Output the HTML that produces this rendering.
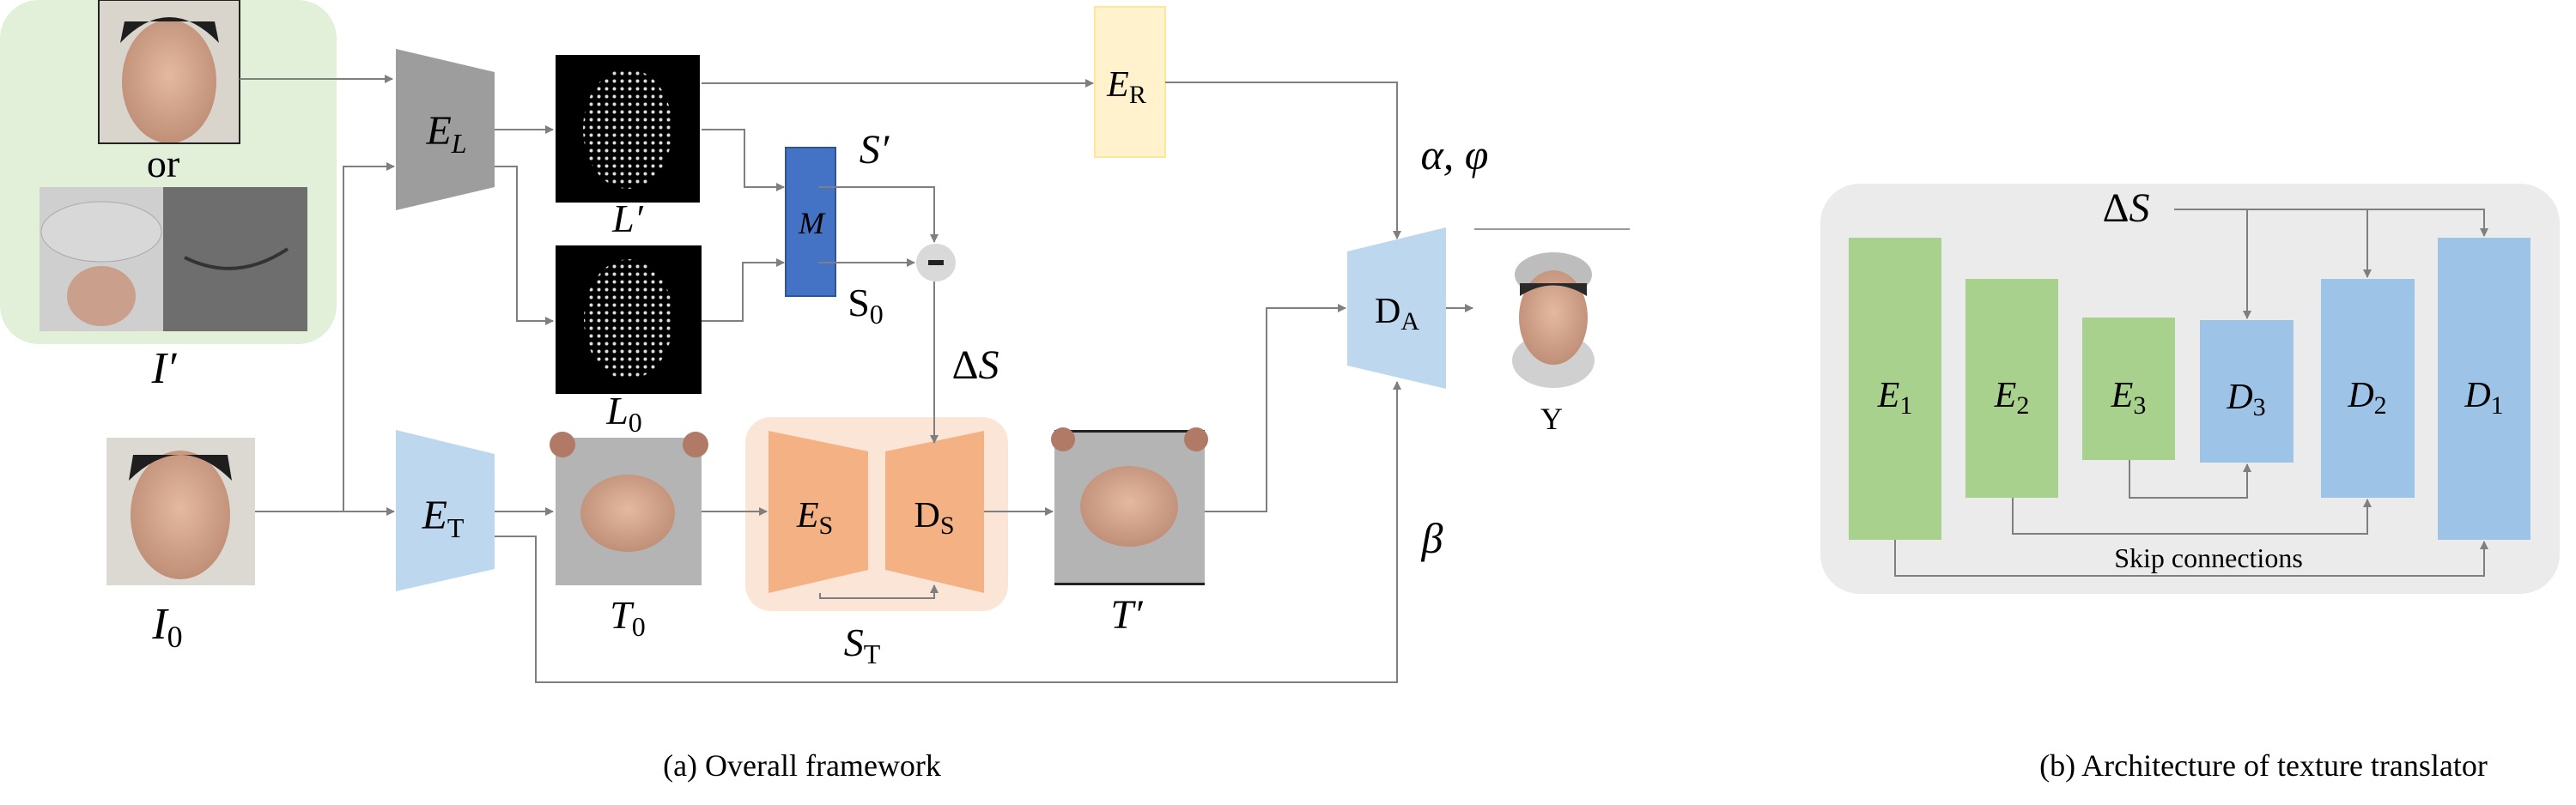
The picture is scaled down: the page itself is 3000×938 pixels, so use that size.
<!DOCTYPE html>
<html><head><meta charset="utf-8"><style>
html,body{margin:0;padding:0;background:#fff}
svg{display:block}
svg text{font-family:"Liberation Serif",serif}
.i{font-style:italic}
</style></head><body>
<svg width="3000" height="938" viewBox="0 0 3000 938" xmlns="http://www.w3.org/2000/svg" font-family="'Liberation Serif', serif">
<defs>
<marker id="a" markerWidth="10" markerHeight="10" refX="9" refY="5" orient="auto" markerUnits="userSpaceOnUse">
<path d="M0,0 L10,5 L0,10 z" fill="#7f7f7f"/></marker>
<pattern id="dots" width="9" height="9" patternUnits="userSpaceOnUse"><circle cx="4.5" cy="4.5" r="2" fill="#ddd"/></pattern>
<radialGradient id="skin" cx="50%" cy="45%" r="55%"><stop offset="0" stop-color="#e4b9a0"/><stop offset="1" stop-color="#c08f78"/></radialGradient>
</defs>

<rect x="0" y="0" width="392" height="401" rx="45" fill="#e2efd9"/>
<rect x="115" y="0" width="164" height="167" fill="#d9d4cc"/>
<ellipse cx="197" cy="95" rx="55" ry="72" fill="url(#skin)"/>
<path d="M140,50 Q197,-10 255,50 L250,25 L145,25 z" fill="#1e1e1e"/>
<rect x="115" y="0" width="164" height="167" fill="none" stroke="#222" stroke-width="2"/>
<rect x="46" y="218" width="144" height="168" fill="#cfcfcf"/>
<ellipse cx="118" cy="270" rx="70" ry="35" fill="#d8d8d8" stroke="#aaa"/>
<ellipse cx="118" cy="345" rx="40" ry="35" fill="#caa08c"/>
<rect x="190" y="218" width="168" height="168" fill="#6e6e6e"/>
<path d="M215,300 Q275,330 335,290" stroke="#333" stroke-width="4" fill="none"/>
<text x="190" y="206" font-size="46" text-anchor="middle">or</text>
<text x="191" y="446" font-size="52" class="i" text-anchor="middle">I′</text>

<rect x="124" y="510" width="173" height="172" fill="#dcd8d2"/>
<ellipse cx="210" cy="600" rx="58" ry="75" fill="url(#skin)"/>
<path d="M150,560 Q210,500 270,560 L265,530 L155,530 z" fill="#1e1e1e"/>
<text x="195" y="744" font-size="52" class="i" text-anchor="middle">I<tspan font-size="36" dy="10" font-style="normal">0</tspan></text>

<polygon points="461,57 576,84 576,218 461,245" fill="#9d9d9d"/>
<text x="520" y="168" font-size="48" class="i" text-anchor="middle">E<tspan font-size="32" dy="10">L</tspan></text>
<polygon points="461,501 576,529 576,663 461,689" fill="#bdd7ee"/>
<text x="516" y="616" font-size="48" class="i" text-anchor="middle">E<tspan font-size="32" dy="10" font-style="normal">T</tspan></text>

<rect x="647" y="64" width="168" height="172" fill="#000"/>
<ellipse cx="731" cy="150" rx="52" ry="70" fill="url(#dots)"/>
<text x="731" y="270" font-size="46" class="i" text-anchor="middle">L′</text>
<rect x="647" y="286" width="170" height="173" fill="#000"/>
<ellipse cx="732" cy="372" rx="52" ry="70" fill="url(#dots)"/>
<text x="727" y="494" font-size="46" class="i" text-anchor="middle">L<tspan font-size="32" dy="9" font-style="normal">0</tspan></text>

<rect x="647" y="510" width="170" height="172" fill="#b4b4b4"/>
<ellipse cx="731" cy="598" rx="55" ry="45" fill="url(#skin)"/>
<circle cx="655" cy="518" r="15" fill="#b07a66"/><circle cx="810" cy="518" r="15" fill="#b07a66"/>
<text x="731" y="732" font-size="46" class="i" text-anchor="middle">T<tspan font-size="32" dy="9" font-style="normal">0</tspan></text>

<rect x="915" y="172" width="58" height="173" fill="#4472c4" stroke="#2f5597" stroke-width="2"/>
<text x="945" y="272" font-size="36" class="i" text-anchor="middle">M</text>
<text x="1018" y="190" font-size="48" class="i" text-anchor="middle">S′</text>
<text x="1008" y="368" font-size="46" text-anchor="middle">S<tspan font-size="32" dy="9">0</tspan></text>
<ellipse cx="1090" cy="306" rx="23" ry="22" fill="#d9d9d9"/>
<rect x="1081" y="303" width="18" height="6" fill="#222"/>
<text x="1136" y="441" font-size="48" text-anchor="middle">Δ<tspan class="i">S</tspan></text>

<rect x="868" y="486" width="306" height="226" rx="30" fill="#fbe5d6"/>
<polygon points="895,502 1011,526 1011,664 895,691" fill="#f4b183"/>
<polygon points="1031,526 1146,502 1146,691 1031,664" fill="#f4b183"/>
<text x="949" y="614" font-size="42" class="i" text-anchor="middle">E<tspan font-size="30" dy="8" font-style="normal">S</tspan></text>
<text x="1088" y="614" font-size="42" text-anchor="middle">D<tspan font-size="30" dy="8">S</tspan></text>
<text x="1004" y="764" font-size="46" class="i" text-anchor="middle">S<tspan font-size="32" dy="9" font-style="normal">T</tspan></text>

<rect x="1275" y="8" width="82" height="175" fill="#fff2cc" stroke="#ffe699" stroke-width="2"/>
<text x="1312" y="112" font-size="42" class="i" text-anchor="middle">E<tspan font-size="30" dy="8" font-style="normal">R</tspan></text>
<text x="1694" y="197" font-size="50" class="i" text-anchor="middle">α, φ</text>

<rect x="1228" y="501" width="175" height="181" fill="#b4b4b4"/>
<rect x="1228" y="501" width="175" height="3" fill="#222"/>
<rect x="1228" y="679" width="175" height="3" fill="#222"/>
<ellipse cx="1315" cy="590" rx="57" ry="47" fill="url(#skin)"/>
<circle cx="1238" cy="512" r="14" fill="#b07a66"/><circle cx="1393" cy="512" r="14" fill="#b07a66"/>
<text x="1312" y="732" font-size="48" class="i" text-anchor="middle">T′</text>

<polygon points="1569,293 1684,265 1684,453 1569,426" fill="#bdd7ee"/>
<text x="1627" y="376" font-size="42" text-anchor="middle">D<tspan font-size="30" dy="8">A</tspan></text>
<text x="1668" y="644" font-size="50" class="i" text-anchor="middle">β</text>
<line x1="1717" y1="267" x2="1898" y2="267" stroke="#999" stroke-width="2"/>
<ellipse cx="1809" cy="320" rx="45" ry="26" fill="#bdbdbd"/>
<ellipse cx="1809" cy="420" rx="48" ry="32" fill="#d0d0d0"/>
<ellipse cx="1809" cy="370" rx="40" ry="55" fill="url(#skin)"/>
<path d="M1770,345 Q1809,320 1848,345 L1848,330 L1770,330 z" fill="#2a2a2a"/>
<text x="1807" y="500" font-size="36" text-anchor="middle">Y</text>

<g stroke="#7f7f7f" stroke-width="2" fill="none">
<path d="M279,92 H457" marker-end="url(#a)"/>
<path d="M297,596 H459" marker-end="url(#a)"/>
<path d="M400,596 V194 H459" marker-end="url(#a)"/>
<path d="M576,151 H644" marker-end="url(#a)"/>
<path d="M576,194 H602 V374 H644" marker-end="url(#a)"/>
<path d="M817,151 H867 V218 H913" marker-end="url(#a)"/>
<path d="M817,374 H865 V306 H913" marker-end="url(#a)"/>
<path d="M817,97 H1273" marker-end="url(#a)"/>
<path d="M953,218 H1088 V282" marker-end="url(#a)"/>
<path d="M953,306 H1065" marker-end="url(#a)"/>
<path d="M1088,328 V516" marker-end="url(#a)"/>
<path d="M576,596 H644" marker-end="url(#a)"/>
<path d="M817,596 H893" marker-end="url(#a)"/>
<path d="M955,691 V697 H1088 V682" marker-end="url(#a)"/>
<path d="M1146,596 H1226" marker-end="url(#a)"/>
<path d="M576,625 H624 V795 H1627 V445" marker-end="url(#a)"/>
<path d="M1357,96 H1627 V278" marker-end="url(#a)"/>
<path d="M1403,596 H1475 V359 H1567" marker-end="url(#a)"/>
<path d="M1684,359 H1715" marker-end="url(#a)"/>
</g>
<text x="934" y="904" font-size="36" text-anchor="middle">(a) Overall framework</text>

<rect x="2120" y="214" width="861" height="478" rx="46" fill="#ebebeb"/>
<rect x="2153" y="277" width="108" height="352" fill="#a9d18e"/>
<rect x="2289" y="325" width="108" height="255" fill="#a9d18e"/>
<rect x="2425" y="370" width="108" height="166" fill="#a9d18e"/>
<rect x="2562" y="373" width="109" height="166" fill="#9dc3e6"/>
<rect x="2703" y="325" width="109" height="255" fill="#9dc3e6"/>
<rect x="2839" y="277" width="108" height="352" fill="#9dc3e6"/>
<g font-size="42" text-anchor="middle">
<text x="2207" y="474" class="i">E<tspan font-size="30" dy="8" font-style="normal">1</tspan></text>
<text x="2343" y="474" class="i">E<tspan font-size="30" dy="8" font-style="normal">2</tspan></text>
<text x="2479" y="474" class="i">E<tspan font-size="30" dy="8" font-style="normal">3</tspan></text>
<text x="2616" y="476" class="i">D<tspan font-size="30" dy="8" font-style="normal">3</tspan></text>
<text x="2757" y="474" class="i">D<tspan font-size="30" dy="8" font-style="normal">2</tspan></text>
<text x="2893" y="474" class="i">D<tspan font-size="30" dy="8" font-style="normal">1</tspan></text>
</g>
<text x="2476" y="258" font-size="48" text-anchor="middle">Δ<tspan class="i">S</tspan></text>
<g stroke="#7f7f7f" stroke-width="2" fill="none">
<path d="M2532,244 H2893 V275" marker-end="url(#a)"/>
<path d="M2617,244 V371" marker-end="url(#a)"/>
<path d="M2757,244 V323" marker-end="url(#a)"/>
<path d="M2480,536 V580 H2617 V541" marker-end="url(#a)"/>
<path d="M2344,580 V622 H2757 V582" marker-end="url(#a)"/>
<path d="M2207,629 V671 H2893 V631" marker-end="url(#a)"/>
</g>
<text x="2572" y="661" font-size="32" text-anchor="middle">Skip connections</text>
<text x="2636" y="904" font-size="36" text-anchor="middle">(b) Architecture of texture translator</text>
</svg>
</body></html>
